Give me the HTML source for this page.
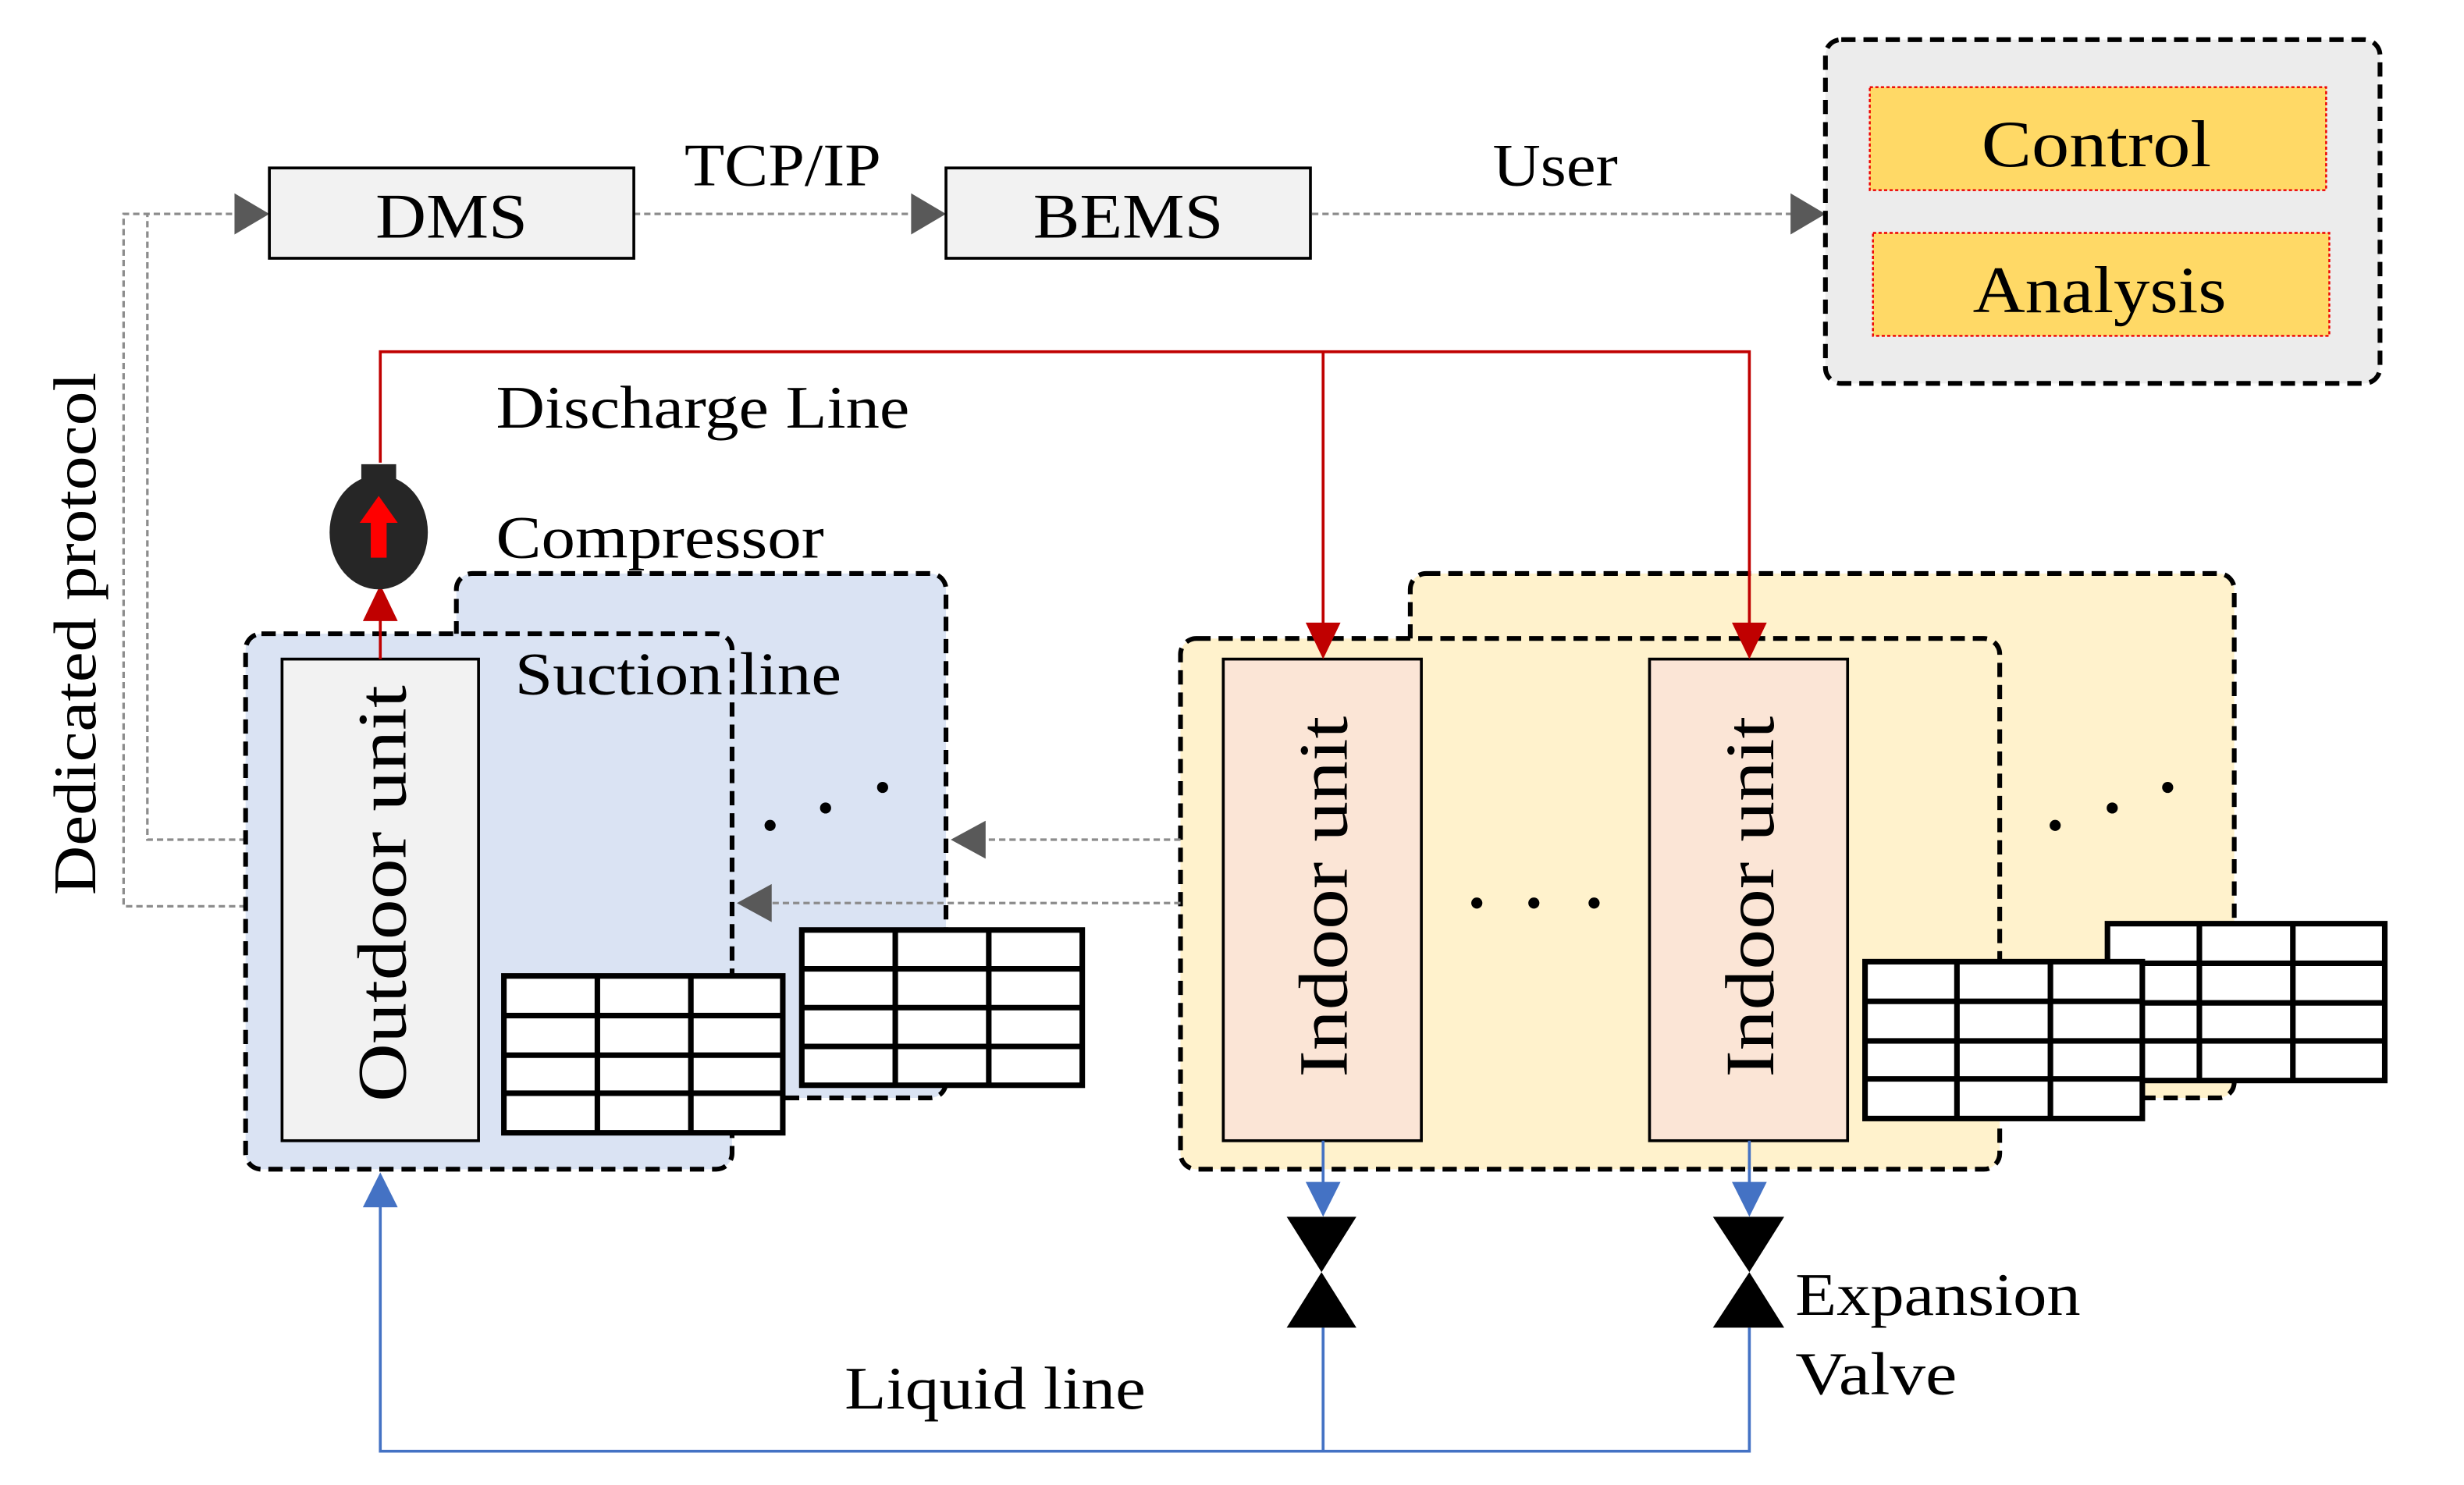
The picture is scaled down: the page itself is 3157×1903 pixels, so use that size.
<!DOCTYPE html>
<html><head><meta charset="utf-8"><style>
html,body{margin:0;padding:0;background:#fff}
svg{display:block}
text{font-family:"Liberation Serif",serif;fill:#000}
</style></head><body>
<svg width="3157" height="1903" viewBox="0 0 1555 937.3" xmlns="http://www.w3.org/2000/svg">
<g fill="none" stroke="#8c8c8c" stroke-width="1.6" stroke-dasharray="4,2.5">
<path d="M155,572 H78 V135 H150"/>
<path d="M155,530 H93 V135"/>
<path d="M400,135 H578"/>
<path d="M828,135 H1132"/>
</g>
<g fill="#595959">
<path d="M148,122 L170,135 L148,148z"/>
<path d="M575,122 L597,135 L575,148z"/>
<path d="M1130,122 L1152,135 L1130,148z"/>
</g>
<rect x="170" y="106" width="230" height="57" fill="#f2f2f2" stroke="#000" stroke-width="1.8"/>
<text x="285" y="150" font-size="40" text-anchor="middle" textLength="96" lengthAdjust="spacingAndGlyphs">DMS</text>
<rect x="597" y="106" width="230" height="57" fill="#f2f2f2" stroke="#000" stroke-width="1.8"/>
<text x="712" y="150" font-size="40" text-anchor="middle" textLength="120" lengthAdjust="spacingAndGlyphs">BEMS</text>
<text x="432" y="117" font-size="38" textLength="124" lengthAdjust="spacingAndGlyphs">TCP/IP</text>
<text x="942" y="117" font-size="38" textLength="79" lengthAdjust="spacingAndGlyphs">User</text>
<rect x="1152" y="25" width="350" height="217" rx="10" fill="#ececec" stroke="#000" stroke-width="3" stroke-dasharray="9,5"/>
<rect x="1180" y="55" width="288" height="65" fill="#ffd966" stroke="#e00" stroke-width="1.2" stroke-dasharray="2,1.5"/>
<rect x="1182" y="147" width="288" height="65" fill="#ffd966" stroke="#e00" stroke-width="1.2" stroke-dasharray="2,1.5"/>
<text x="1323" y="105" font-size="42" text-anchor="middle" textLength="145" lengthAdjust="spacingAndGlyphs">Control</text>
<text x="1325" y="197" font-size="42" text-anchor="middle" textLength="160" lengthAdjust="spacingAndGlyphs">Analysis</text>
<text transform="translate(60,400) rotate(-90)" font-size="38" text-anchor="middle" textLength="330" lengthAdjust="spacingAndGlyphs">Dedicated protocol</text>
<!-- outdoor -->
<rect x="288" y="362" width="309" height="331" rx="10" fill="#dae3f3" stroke="#000" stroke-width="3" stroke-dasharray="9,5"/>
<rect x="155" y="400" width="307" height="338" rx="10" fill="#dae3f3" stroke="#000" stroke-width="3" stroke-dasharray="9,5"/>
<rect x="178" y="416" width="124" height="304" fill="#f2f2f2" stroke="#000" stroke-width="1.8"/>
<text transform="translate(256,564) rotate(-90)" font-size="44" text-anchor="middle" textLength="263" lengthAdjust="spacingAndGlyphs">Outdoor unit</text>
<text x="325" y="438" font-size="38" textLength="206" lengthAdjust="spacingAndGlyphs">Suction line</text>
<!-- indoor -->
<rect x="890" y="362" width="520" height="331" rx="10" fill="#fff2cc" stroke="#000" stroke-width="3" stroke-dasharray="9,5"/>
<rect x="745" y="403" width="517" height="335" rx="10" fill="#fff2cc" stroke="#000" stroke-width="3" stroke-dasharray="9,5"/>
<rect x="772" y="416" width="125" height="304" fill="#fbe5d6" stroke="#000" stroke-width="1.8"/>
<rect x="1041" y="416" width="125" height="304" fill="#fbe5d6" stroke="#000" stroke-width="1.8"/>
<text transform="translate(850,566) rotate(-90)" font-size="44" text-anchor="middle" textLength="228" lengthAdjust="spacingAndGlyphs">Indoor unit</text>
<text transform="translate(1119,566) rotate(-90)" font-size="44" text-anchor="middle" textLength="228" lengthAdjust="spacingAndGlyphs">Indoor unit</text>
<g fill="#000"><circle cx="486" cy="521" r="3.5"/><circle cx="521" cy="510" r="3.5"/><circle cx="557" cy="497" r="3.5"/>
<circle cx="932" cy="570" r="3.5"/><circle cx="968" cy="570" r="3.5"/><circle cx="1006" cy="570" r="3.5"/>
<circle cx="1297" cy="521" r="3.5"/><circle cx="1333" cy="510" r="3.5"/><circle cx="1368" cy="497" r="3.5"/></g>
<!-- gray arrows -->
<g fill="none" stroke="#8c8c8c" stroke-width="1.6" stroke-dasharray="4,2.5">
<path d="M745,530 H620"/>
<path d="M745,570 H486"/>
</g>
<g fill="#595959">
<path d="M622,518 L600,530 L622,542z"/>
<path d="M487,558 L465,570 L487,582z"/>
</g>
<!-- tables -->
<g fill="#fff" stroke="#000" stroke-width="3.5">
<g transform="translate(506,587)"><rect width="177" height="98"/><path d="M0,24.5H177M0,49H177M0,73.5H177M59,0V98M118,0V98"/></g>
<g transform="translate(318,616)"><rect width="176" height="99"/><path d="M0,25H176M0,50H176M0,74H176M59,0V99M118,0V99"/></g>
<g transform="translate(1330,583)"><rect width="175" height="99"/><path d="M0,25H175M0,50H175M0,74H175M58,0V99M117,0V99"/></g>
<g transform="translate(1177,607)"><rect width="175" height="99"/><path d="M0,25H175M0,50H175M0,74H175M58,0V99M117,0V99"/></g>
</g>
<!-- red lines -->
<g fill="none" stroke="#c00000" stroke-width="1.8">
<path d="M240,292 V222 H1104 V400"/><path d="M835,222 V400"/><path d="M240,416 V385"/>
</g>
<g fill="#c00000">
<path d="M824,393 L846,393 L835,416z"/><path d="M1093,393 L1115,393 L1104,416z"/><path d="M229,392 L251,392 L240,369z"/>
</g>
<!-- compressor -->
<rect x="228" y="293" width="22" height="20" fill="#262626"/>
<ellipse cx="239" cy="336" rx="31" ry="36" fill="#262626"/>
<path d="M239,313 L251,330 L244,330 L244,352 L234,352 L234,330 L227,330z" fill="#f00"/>
<text x="313" y="270" font-size="38" textLength="261" lengthAdjust="spacingAndGlyphs">Discharge Line</text>
<text x="313" y="352" font-size="38" textLength="207" lengthAdjust="spacingAndGlyphs">Compressor</text>
<!-- blue lines -->
<g fill="none" stroke="#4472c4" stroke-width="1.8">
<path d="M835,720 V752"/><path d="M1104,720 V752"/>
<path d="M835,838 V916 M1104,838 V916 H240 V760"/>
</g>
<g fill="#4472c4">
<path d="M824,746 L846,746 L835,768z"/><path d="M1093,746 L1115,746 L1104,768z"/><path d="M229,762 L251,762 L240,740z"/>
</g>
<g fill="#000">
<path d="M812,768 L856,768 L834,803 L856,838 L812,838 L834,803z"/>
<path d="M1081,768 L1126,768 L1104,803 L1126,838 L1081,838 L1104,803z"/>
</g>
<text x="533" y="889" font-size="38" textLength="190" lengthAdjust="spacingAndGlyphs">Liquid line</text>
<text x="1133" y="830" font-size="38" textLength="180" lengthAdjust="spacingAndGlyphs">Expansion</text>
<text x="1133" y="880" font-size="38" textLength="102" lengthAdjust="spacingAndGlyphs">Valve</text>
</svg>
</body></html>
